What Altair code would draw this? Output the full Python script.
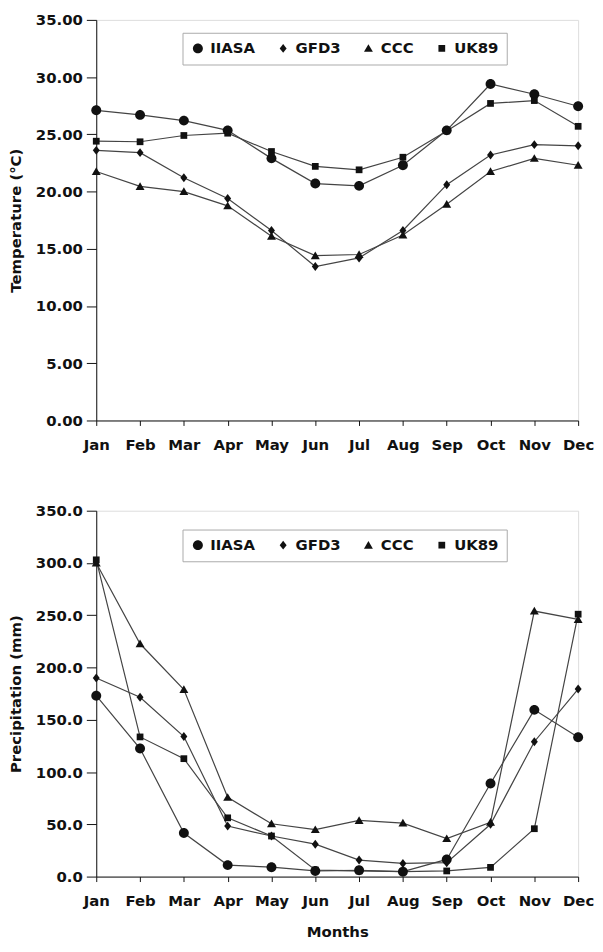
import altair as alt
import pandas as pd

months = ["Jan", "Feb", "Mar", "Apr", "May", "Jun", "Jul", "Aug", "Sep", "Oct", "Nov", "Dec"]
series = ["IIASA", "GFD3", "CCC", "UK89"]

temp_iiasa = [27.1, 26.7, 26.2, 25.35, 22.9, 20.7, 20.5, 22.3, 25.35, 29.4, 28.5, 27.45]
temp_gfd3 = [23.6, 23.4, 21.2, 19.4, 16.6, 13.45, 14.2, 16.6, 20.6, 23.2, 24.1, 24.0]
temp_ccc = [21.75, 20.45, 20.0, 18.75, 16.1, 14.4, 14.5, 16.2, 18.9, 21.75, 22.9, 22.3]
temp_uk89 = [24.4, 24.35, 24.9, 25.1, 23.5, 22.2, 21.9, 23.0, 25.3, 27.7, 27.95, 25.7]

prec_iiasa = [173, 122.5, 41.7, 11, 9, 5.4, 6, 4.7, 16.4, 89, 159.5, 133.3]
prec_gfd3 = [190, 171.5, 134, 48.3, 38.8, 31, 15.8, 12.6, 13.3, 50, 129, 179.4]
prec_ccc = [300, 222.7, 179, 75.8, 50.5, 44.9, 53.7, 51.2, 36.3, 52, 254, 246]
prec_uk89 = [303, 133.6, 112.8, 56.2, 38.8, 6.3, 5.4, 4.7, 5.4, 8.8, 45.8, 251]

# marker shapes (unit-square SVG paths so each has its own visual size)
shape_paths = [
    "M-1,0A1,1 0 1,0 1,0A1,1 0 1,0 -1,0Z",          # circle
    "M0,-0.9L0.7,0L0,0.9L-0.7,0Z",                  # diamond
    "M0,-0.85L0.9,0.7L-0.9,0.7Z",                    # triangle
    "M-0.68,-0.68L0.68,-0.68L0.68,0.68L-0.68,0.68Z",  # square
]


def long_df(vals):
    rows = []
    for s, arr in zip(series, vals):
        for i, (m, v) in enumerate(zip(months, arr)):
            rows.append({"month": m, "idx": i, "series": s, "value": v})
    return pd.DataFrame(rows)


temp_df = long_df([temp_iiasa, temp_gfd3, temp_ccc, temp_uk89])
prec_df = long_df([prec_iiasa, prec_gfd3, prec_ccc, prec_uk89])

FONT = "DejaVu Sans"
INK = "#111"


def panel(df, ymax, ystep, yfmt, ytitle, xtitle, height, legend_y):
    x_axis = alt.Axis(
        title=xtitle if xtitle else None,
        labelAngle=0, labelFont=FONT, labelFontSize=15, labelFontWeight="bold",
        labelColor=INK, labelPadding=12, tickSize=5, tickColor=INK,
        domainColor=INK, grid=False, titleFont=FONT, titleFontSize=15,
        titleFontWeight="bold", titleColor=INK, titlePadding=16,
    )
    x = alt.X("month:N", sort=months, scale=alt.Scale(type="point", padding=0), axis=x_axis)
    y = alt.Y(
        "value:Q",
        scale=alt.Scale(domain=[0, ymax], nice=False, zero=True),
        axis=alt.Axis(
            title=ytitle, values=list(range(0, ymax + 1, ystep)), format=yfmt,
            labelFont=FONT, labelFontSize=15, labelFontWeight="bold", labelColor=INK,
            labelPadding=4, tickSize=10, tickColor=INK, domainColor=INK,
            grid=False, titleFont=FONT, titleFontSize=15, titleFontWeight="bold",
            titleColor=INK, titlePadding=12,
        ),
    )
    base = alt.Chart(df).encode(x=x, y=y)
    lines = base.mark_line(color="#444", strokeWidth=1.2).encode(
        detail="series:N", order=alt.Order("idx:Q")
    )
    points = base.mark_point(filled=True, color=INK, opacity=1, size=100, strokeWidth=0).encode(
        shape=alt.Shape(
            "series:N", sort=series,
            scale=alt.Scale(domain=series, range=shape_paths),
            legend=alt.Legend(
                title=None, orient="none", legendX=87, legendY=legend_y,
                direction="horizontal", strokeColor="#aaa", padding=8,
                labelFont=FONT, labelFontSize=15, labelFontWeight="bold",
                labelColor=INK, symbolFillColor=INK, symbolStrokeColor=INK,
                symbolStrokeWidth=0, symbolSize=100, columnPadding=20, labelOffset=5,
            ),
        ),
    )
    return alt.layer(lines, points).properties(width=486, height=height)


top = panel(temp_df, 35, 5, ".2f", "Temperature (°C)", None, 404, 13)
bottom = panel(prec_df, 350, 50, ".1f", "Precipitation (mm)", "Months", 369, 19)

chart = (
    alt.vconcat(top, bottom, spacing=50)
    .resolve_scale(shape="independent")
    .resolve_legend(shape="independent")
    .properties(padding=0)
    .configure_view(stroke="#777", strokeWidth=1)
    .configure(background="white")
)

chart.save("out.html", embed_options={"renderer": "svg", "actions": False})
